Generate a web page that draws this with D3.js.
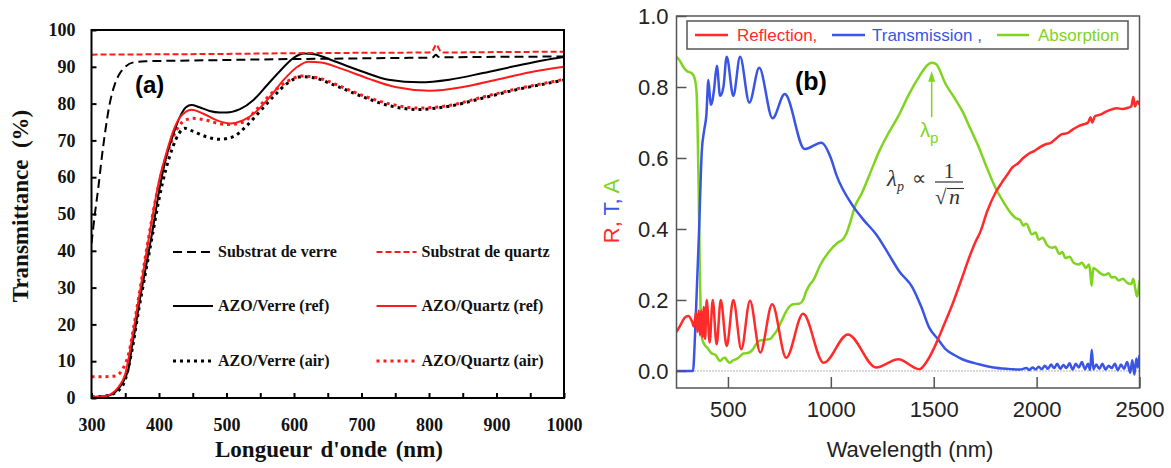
<!DOCTYPE html>
<html>
<head>
<meta charset="utf-8">
<script src="https://cdn.jsdelivr.net/npm/d3@7"></script>
<style>
  body { margin: 0; background: #fff; }
  svg { display: block; }
</style>
</head>
<body>
<svg id="chart" width="1171" height="468"></svg>
<script>
// ---------- Panel (a): transmittance of substrates and AZO films ----------
const wlGlass   = [300, 305, 310, 315, 320, 327, 335, 343, 350, 362, 380, 450, 550, 650, 750, 800, 806, 810, 814, 820, 900, 1000];
const tGlass    = [42, 50, 57, 65, 72, 80, 85.5, 88.5, 90, 91.2, 91.5, 91.7, 92, 92.2, 92.4, 92.5, 92.6, 93.3, 92.7, 92.6, 92.7, 92.8];

const wlQuartz  = [300, 400, 500, 600, 700, 800, 804, 808, 811, 814, 818, 822, 900, 1000];
const tQuartz   = [93.3, 93.4, 93.5, 93.7, 93.8, 93.9, 94.0, 95.3, 96.1, 95.2, 94.0, 93.9, 94.0, 94.1];

const wlVerreRef = [300, 320, 330, 340, 350, 355, 360, 365, 370, 380, 390, 400, 410, 420, 430, 440, 448, 460, 475, 490, 500, 520, 540, 560, 580, 600, 615, 630, 660, 700, 740, 787, 830, 880, 930, 970, 1000];
const tVerreRef  = [0.3, 0.5, 1, 2.5, 5.5, 8, 14, 19, 25, 35, 45, 56, 65, 71, 76, 79, 79.6, 79, 78, 77.6, 77.6, 78.5, 81, 85, 89, 92.5, 93.6, 93.4, 91.5, 88.8, 86.5, 85.8, 86.5, 88.3, 90.3, 91.8, 92.7];

const wlQuartzRef = [300, 320, 330, 340, 350, 360, 370, 380, 390, 400, 410, 420, 430, 440, 448, 465, 485, 505, 525, 545, 565, 585, 605, 621, 640, 670, 710, 750, 801, 850, 900, 950, 1000];
const tQuartzRef  = [0.3, 0.5, 1.2, 3, 6.5, 16, 27, 38, 49, 59, 66, 72, 76, 77.8, 78.3, 77.3, 75.5, 74.6, 75.5, 78, 82, 86.5, 90, 91.4, 91.2, 89.5, 86.8, 84.5, 83.5, 84.5, 86.5, 88.5, 90];

const wlVerreAir = [300, 320, 330, 340, 350, 360, 370, 380, 390, 400, 410, 420, 430, 438, 450, 470, 490, 510, 530, 550, 570, 590, 611, 630, 660, 700, 740, 782, 830, 880, 930, 970, 1000];
const tVerreAir  = [0.3, 0.5, 1, 2, 5, 13, 24, 34, 44, 54, 62, 68, 72, 73.3, 72.5, 71, 70.3, 71, 74, 78, 82, 85.5, 87.3, 87, 85, 82, 79.5, 78.4, 79.3, 81.5, 83.8, 85.3, 86.4];

const wlQuartzAir = [300, 320, 335, 345, 355, 365, 375, 385, 395, 405, 415, 425, 435, 450, 470, 490, 505, 525, 545, 565, 590, 612, 635, 665, 700, 740, 785, 830, 880, 930, 970, 1000];
const tQuartzAir  = [5.8, 5.8, 6, 7.5, 12, 22, 33, 44, 54, 62, 68, 72.5, 75, 76, 75.5, 74.5, 74.3, 75, 78.5, 82.5, 86, 87.5, 87, 85, 82.3, 80, 78.8, 79.5, 81.8, 84, 85.5, 86.6];

const legendLabelsA = ["Substrat de verre", "Substrat de quartz", "AZO/Verre (ref)", "AZO/Quartz (ref)", "AZO/Verre (air)", "AZO/Quartz (air)"];
const xTicksA = [300, 350, 400, 450, 500, 550, 600, 650, 700, 750, 800, 850, 900, 950, 1000];
const yTicksA = [0, 10, 20, 30, 40, 50, 60, 70, 80, 90, 100];

// ---------- Panel (b): reflection, transmission, absorption ----------
const wlR = [250, 270, 290, 308, 325, 335, 345, 352, 358, 364, 370, 376, 383, 389, 397, 411, 426, 445, 465, 494, 526, 565, 607, 657, 715, 783, 865, 965, 1083, 1220, 1328, 1430, 1470, 1510, 1550, 1591, 1630, 1672, 1700, 1728, 1760, 1800, 1830, 1860, 1881, 1910, 1935, 1962, 1990, 2015, 2042, 2070, 2095, 2123, 2150, 2175, 2204, 2230, 2250, 2262, 2270, 2284, 2310, 2335, 2365, 2390, 2415, 2446, 2460, 2470, 2478, 2490, 2500];
const vR  = [0.11, 0.13, 0.15, 0.155, 0.14, 0.125, 0.165, 0.11, 0.17, 0.1, 0.17, 0.095, 0.18, 0.09, 0.2, 0.08, 0.2, 0.075, 0.2, 0.07, 0.2, 0.061, 0.198, 0.052, 0.188, 0.037, 0.161, 0.023, 0.103, 0.01, 0.033, 0.005, 0.03, 0.075, 0.13, 0.188, 0.25, 0.319, 0.36, 0.394, 0.45, 0.502, 0.53, 0.555, 0.573, 0.585, 0.6, 0.612, 0.62, 0.63, 0.638, 0.643, 0.655, 0.667, 0.67, 0.68, 0.69, 0.695, 0.7, 0.715, 0.7, 0.718, 0.722, 0.73, 0.737, 0.74, 0.738, 0.742, 0.745, 0.772, 0.745, 0.76, 0.75];

const wlT = [250, 330, 340, 350, 360, 368, 373, 385, 395, 405, 416, 424, 432, 446, 462, 478, 494, 526, 559, 604, 652, 717, 776, 873, 954, 1000, 1026, 1107, 1160, 1220, 1280, 1333, 1397, 1440, 1478, 1520, 1559, 1600, 1639, 1720, 1800, 1880, 1920, 1950, 1965, 1980, 1995, 2010, 2025, 2040, 2055, 2070, 2085, 2100, 2115, 2130, 2145, 2160, 2175, 2190, 2205, 2220, 2235, 2250, 2260, 2268, 2276, 2290, 2305, 2320, 2335, 2350, 2365, 2380, 2395, 2410, 2425, 2440, 2455, 2465, 2475, 2485, 2492, 2500];
const vT  = [0, 0, 0.1, 0.25, 0.4, 0.55, 0.62, 0.68, 0.72, 0.82, 0.75, 0.76, 0.79, 0.86, 0.775, 0.8, 0.885, 0.775, 0.885, 0.756, 0.854, 0.712, 0.78, 0.625, 0.643, 0.6, 0.554, 0.465, 0.425, 0.385, 0.33, 0.28, 0.235, 0.18, 0.122, 0.09, 0.061, 0.045, 0.033, 0.019, 0.009, 0.005, 0.004, 0.008, 0.003, 0.01, 0.004, 0.012, 0.005, 0.015, 0.006, 0.018, 0.008, 0.02, 0.006, 0.017, 0.008, 0.022, 0.004, 0.02, 0.01, 0.025, 0.005, 0.02, 0.003, 0.06, 0.005, 0.018, 0.006, 0.02, 0.004, 0.015, 0.008, 0.02, 0.002, 0.018, 0.006, 0.025, -0.005, 0.03, -0.01, 0.035, 0.01, 0.045];

const wlA = [250, 265, 285, 300, 320, 330, 340, 348, 352, 358, 363, 368, 375, 385, 400, 420, 440, 462, 475, 486, 498, 510, 525, 543, 560, 575, 590, 607, 620, 640, 655, 680, 704, 720, 737, 760, 785, 800, 817, 849, 865, 881, 900, 913, 950, 994, 1030, 1060, 1074, 1100, 1115, 1150, 1200, 1236, 1280, 1330, 1380, 1430, 1470, 1490, 1510, 1559, 1600, 1639, 1680, 1720, 1760, 1800, 1840, 1880, 1900, 1920, 1935, 1950, 1977, 1995, 2010, 2030, 2050, 2074, 2090, 2110, 2125, 2140, 2160, 2180, 2204, 2220, 2240, 2255, 2262, 2267, 2275, 2290, 2310, 2330, 2350, 2364, 2380, 2400, 2420, 2440, 2460, 2470, 2480, 2488, 2494, 2500];
const vA  = [0.885, 0.875, 0.855, 0.845, 0.84, 0.835, 0.82, 0.78, 0.7, 0.5, 0.3, 0.15, 0.09, 0.075, 0.065, 0.05, 0.045, 0.028, 0.035, 0.037, 0.028, 0.023, 0.03, 0.034, 0.042, 0.049, 0.05, 0.053, 0.06, 0.078, 0.086, 0.088, 0.09, 0.1, 0.113, 0.14, 0.17, 0.182, 0.188, 0.19, 0.2, 0.225, 0.245, 0.254, 0.3, 0.338, 0.36, 0.372, 0.385, 0.43, 0.46, 0.5, 0.57, 0.62, 0.67, 0.72, 0.78, 0.83, 0.862, 0.868, 0.865, 0.807, 0.77, 0.732, 0.68, 0.629, 0.57, 0.516, 0.475, 0.441, 0.43, 0.425, 0.41, 0.415, 0.385, 0.39, 0.37, 0.375, 0.355, 0.347, 0.35, 0.33, 0.335, 0.318, 0.322, 0.305, 0.3, 0.305, 0.29, 0.3, 0.27, 0.24, 0.29, 0.285, 0.275, 0.27, 0.275, 0.263, 0.265, 0.255, 0.26, 0.248, 0.245, 0.26, 0.23, 0.21, 0.225, 0.255];

const legendLabelsB = ["Reflection,", "Transmission ,", "Absorption"];
const xTicksB = [500, 1000, 1500, 2000, 2500];
const yTicksB = [0, 0.2, 0.4, 0.6, 0.8, 1.0];

// ---------- drawing ----------
const svg = d3.select("#chart");
svg.append("rect").attr("width", 1171).attr("height", 468).attr("fill", "#fff");

const defs = svg.append("defs");
const serif = "'Liberation Serif', 'Times New Roman', serif";
const sans = "'Liberation Sans', Arial, sans-serif";

// ===== Panel (a) =====
const xA = d3.scaleLinear().domain([300, 1000]).range([91.5, 564]);
const yA = d3.scaleLinear().domain([0, 100]).range([398, 30]);

defs.append("clipPath").attr("id", "clipA").append("rect")
  .attr("x", xA(300)).attr("y", yA(100))
  .attr("width", xA(1000) - xA(300)).attr("height", yA(0) - yA(100));

const gA = svg.append("g");

const lineA = d3.line().curve(d3.curveMonotoneX).x(d => xA(d[0])).y(d => yA(d[1]));
const seriesA = [
  { wl: wlGlass,     t: tGlass,     color: "#000",   dash: "9,5",  width: 2 },
  { wl: wlQuartz,    t: tQuartz,    color: "#ff1a1a", dash: "6,3", width: 2 },
  { wl: wlVerreRef,  t: tVerreRef,  color: "#000",   dash: null,   width: 2 },
  { wl: wlQuartzRef, t: tQuartzRef, color: "#ff1a1a", dash: null, width: 2 },
  { wl: wlVerreAir,  t: tVerreAir,  color: "#000",   dash: "3,4",  width: 3 },
  { wl: wlQuartzAir, t: tQuartzAir, color: "#ff1a1a", dash: "3,4", width: 3 }
];

const plotA = gA.append("g").attr("clip-path", "url(#clipA)");
// draw order: dotted beneath, solids, dashed on top
[4, 5, 2, 3, 0, 1].forEach(i => {
  const s = seriesA[i];
  plotA.append("path")
    .datum(s.wl.map((w, k) => [w, s.t[k]]))
    .attr("d", lineA)
    .attr("fill", "none")
    .attr("stroke", s.color)
    .attr("stroke-width", s.width)
    .attr("stroke-dasharray", s.dash);
});

// axes (inward ticks)
const axA_x = gA.append("g").attr("transform", `translate(0,${yA(0)})`)
  .call(d3.axisBottom(xA).tickValues(xTicksA).tickSize(-5).tickPadding(20)
    .tickFormat(d => d % 100 === 0 ? d : ""));
const axA_y = gA.append("g").attr("transform", `translate(${xA(300)},0)`)
  .call(d3.axisLeft(yA).tickValues(yTicksA).tickSize(-5).tickPadding(16));
[axA_x, axA_y].forEach(ax => {
  ax.select(".domain").remove();
  ax.selectAll(".tick line").attr("stroke", "#000").attr("stroke-width", 2);
  ax.selectAll(".tick text").attr("font-family", serif).attr("font-weight", "bold")
    .attr("font-size", 18).attr("fill", "#111");
});

// frame
gA.append("rect")
  .attr("x", xA(300)).attr("y", yA(100))
  .attr("width", xA(1000) - xA(300)).attr("height", yA(0) - yA(100))
  .attr("fill", "none").attr("stroke", "#000").attr("stroke-width", 2);

// axis titles
gA.append("text")
  .attr("x", 329).attr("y", 457).attr("text-anchor", "middle")
  .attr("font-family", serif).attr("font-weight", "bold").attr("font-size", 23)
  .attr("word-spacing", 3).attr("fill", "#111")
  .text("Longueur d'onde (nm)");
gA.append("text")
  .attr("transform", "translate(28,206) rotate(-90)").attr("text-anchor", "middle")
  .attr("font-family", serif).attr("font-weight", "bold").attr("font-size", 23)
  .attr("fill", "#111").attr("xml:space", "preserve")
  .text("Transmittance  (%)");

// panel tag
gA.append("text").attr("x", 135).attr("y", 93)
  .attr("font-family", sans).attr("font-weight", "bold").attr("font-size", 24)
  .attr("fill", "#000").text("(a)");

// legend, two columns
const legA = gA.append("g");
const legRowsY = [252, 306, 361];
const legColX = [173, 376.5];
seriesA.forEach((s, i) => {
  const col = i % 2, row = Math.floor(i / 2);
  const lx = legColX[col], ly = legRowsY[row];
  legA.append("line")
    .attr("x1", lx).attr("x2", lx + 40).attr("y1", ly).attr("y2", ly)
    .attr("stroke", s.color).attr("stroke-width", s.width)
    .attr("stroke-dasharray", s.dash);
  legA.append("text")
    .attr("x", lx + 45).attr("y", ly + 5)
    .attr("font-family", serif).attr("font-weight", "bold").attr("font-size", 16)
    .attr("fill", "#111").text(legendLabelsA[i]);
});

// ===== Panel (b) =====
const xB = d3.scaleLinear().domain([250, 2500]).range([676.5, 1139.5]);
const yB = d3.scaleLinear().domain([-0.048, 1.0]).range([388, 16]);

defs.append("clipPath").attr("id", "clipB").append("rect")
  .attr("x", xB(250)).attr("y", yB(1.0))
  .attr("width", xB(2500) - xB(250)).attr("height", yB(-0.048) - yB(1.0));

const gB = svg.append("g");
const colR = "#ff2a2a", colT = "#3a55e6", colA = "#7fd41e";

// zero reference line
gB.append("line")
  .attr("x1", xB(250)).attr("x2", xB(2500)).attr("y1", yB(0)).attr("y2", yB(0))
  .attr("stroke", "#666").attr("stroke-width", 1).attr("stroke-dasharray", "1,2");

const lineB = d3.line().curve(d3.curveMonotoneX).x(d => xB(d[0])).y(d => yB(d[1]));
const seriesB = [
  { wl: wlR, v: vR, color: colR },
  { wl: wlT, v: vT, color: colT },
  { wl: wlA, v: vA, color: colA }
];
const plotB = gB.append("g").attr("clip-path", "url(#clipB)");
[2, 1, 0].forEach(i => {
  const s = seriesB[i];
  plotB.append("path")
    .datum(s.wl.map((w, k) => [w, s.v[k]]))
    .attr("d", lineB)
    .attr("fill", "none").attr("stroke", s.color)
    .attr("stroke-width", 2.5).attr("stroke-linejoin", "round");
});

const axB_x = gB.append("g").attr("transform", `translate(0,${yB(-0.048)})`)
  .call(d3.axisBottom(xB).tickValues(xTicksB).tickSize(-11).tickPadding(13)
    .tickFormat(d3.format("d")));
const axB_y = gB.append("g").attr("transform", `translate(${xB(250)},0)`)
  .call(d3.axisLeft(yB).tickValues(yTicksB).tickSize(-10).tickPadding(8)
    .tickFormat(d3.format(".1f")));
[axB_x, axB_y].forEach(ax => {
  ax.select(".domain").remove();
  ax.selectAll(".tick line").attr("stroke", "#555").attr("stroke-width", 1.5);
  ax.selectAll(".tick text").attr("font-family", sans).attr("font-size", 22).attr("fill", "#222");
});

gB.append("rect")
  .attr("x", xB(250)).attr("y", yB(1.0))
  .attr("width", xB(2500) - xB(250)).attr("height", yB(-0.048) - yB(1.0))
  .attr("fill", "none").attr("stroke", "#555").attr("stroke-width", 1.5);

// axis titles
gB.append("text").attr("x", 910).attr("y", 457).attr("text-anchor", "middle")
  .attr("font-family", sans).attr("font-size", 22).attr("fill", "#222")
  .text("Wavelength (nm)");
const yTitle = gB.append("text")
  .attr("transform", "translate(619,211) rotate(-90)").attr("text-anchor", "middle")
  .attr("font-family", sans).attr("font-size", 22).attr("xml:space", "preserve");
yTitle.append("tspan").attr("fill", colR).text("R, ");
yTitle.append("tspan").attr("fill", colT).text("T, ");
yTitle.append("tspan").attr("fill", colA).text("A");

// legend box
const legB = gB.append("g");
legB.append("rect").attr("x", 687).attr("y", 21).attr("width", 441).attr("height", 28)
  .attr("fill", "#fff").attr("stroke", "#555").attr("stroke-width", 1.5);
const legItemsB = [
  { x1: 695, x2: 728, tx: 737 },
  { x1: 832, x2: 865, tx: 872 },
  { x1: 997, x2: 1029, tx: 1038 }
];
seriesB.forEach((s, i) => {
  const it = legItemsB[i];
  legB.append("line").attr("x1", it.x1).attr("x2", it.x2).attr("y1", 35).attr("y2", 35)
    .attr("stroke", s.color).attr("stroke-width", 2.5);
  legB.append("text").attr("x", it.tx).attr("y", 41)
    .attr("font-family", sans).attr("font-size", 17).attr("fill", s.color)
    .text(legendLabelsB[i]);
});

// panel tag
gB.append("text").attr("x", 795).attr("y", 90)
  .attr("font-family", sans).attr("font-weight", "bold").attr("font-size", 25)
  .attr("fill", "#000").text("(b)");

// plasma wavelength marker
const peakWl = 1490;
gB.append("line")
  .attr("x1", xB(peakWl)).attr("x2", xB(peakWl))
  .attr("y1", yB(0.715)).attr("y2", yB(0.82))
  .attr("stroke", colA).attr("stroke-width", 1.5);
gB.append("path")
  .attr("d", `M${xB(peakWl)},${yB(0.845)} L${xB(peakWl) - 3.5},${yB(0.815)} L${xB(peakWl) + 3.5},${yB(0.815)} Z`)
  .attr("fill", colA);
const lp = gB.append("text").attr("x", 920).attr("y", 137)
  .attr("font-family", sans).attr("font-size", 20).attr("fill", colA);
lp.append("tspan").text("λ");
lp.append("tspan").attr("font-size", 15).attr("dy", 6).text("p");

// λp ∝ 1/√n
const fm = gB.append("g").attr("fill", "#333").attr("font-family", serif);
const lam = fm.append("text").attr("x", 887).attr("y", 186).attr("font-size", 23).attr("font-style", "italic");
lam.append("tspan").text("λ");
lam.append("tspan").attr("font-size", 14).attr("dy", 5).text("p");
fm.append("text").attr("x", 912).attr("y", 185).attr("font-size", 20).text("∝");
fm.append("text").attr("x", 949).attr("y", 178).attr("text-anchor", "middle").attr("font-size", 21).text("1");
fm.append("line").attr("x1", 935).attr("x2", 963).attr("y1", 182).attr("y2", 182)
  .attr("stroke", "#333").attr("stroke-width", 1.2);
fm.append("text").attr("x", 935).attr("y", 204).attr("font-size", 21).text("√");
fm.append("line").attr("x1", 947).attr("x2", 964).attr("y1", 188.5).attr("y2", 188.5)
  .attr("stroke", "#333").attr("stroke-width", 1.1);
fm.append("text").attr("x", 949).attr("y", 204).attr("font-size", 22).attr("font-style", "italic").text("n");
</script>
</body>
</html>
